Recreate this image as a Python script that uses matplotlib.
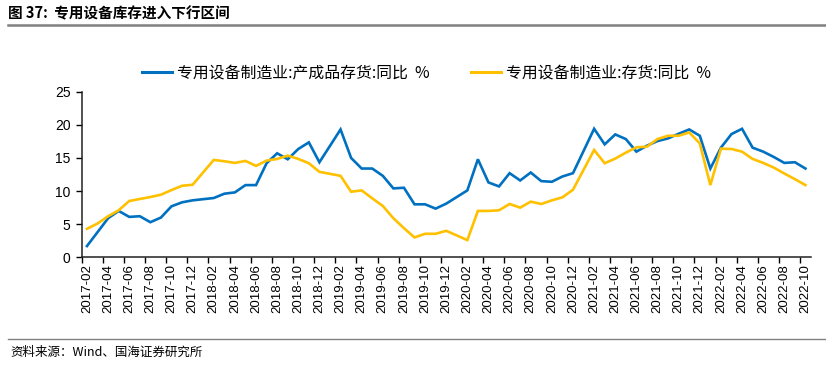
import numpy as np
import pandas as pd
import matplotlib
matplotlib.use("Agg")
import matplotlib.pyplot as plt
from matplotlib.lines import Line2D

plt.rcParams['font.family'] = ['Noto Sans CJK SC', 'DejaVu Sans']

# 月份 2017-02 .. 2022-10, 1月多数年份缺失 (None)
months = pd.period_range('2017-02', '2022-10', freq='M').strftime('%Y-%m').tolist()

# 专用设备制造业:产成品存货:同比 %
finished = [1.7, 3.8, 5.9, 7.0, 6.1, 6.2, 5.3, 6.0, 7.7, 8.3, 8.6,
            None, 8.95, 9.6, 9.8, 10.9, 10.9, 14.2, 15.7, 14.8, 16.35, 17.35, 14.35,
            None, 19.3, 15.0, 13.4, 13.4, 12.3, 10.4, 10.5, 8.0, 8.0, 7.35, 8.1,
            None, 10.1, 14.8, 11.3, 10.7, 12.7, 11.6, 12.8, 11.5, 11.4, 12.2, 12.7,
            None, 19.4, 17.05, 18.55, 17.85, 15.95, 16.85, 17.55, 17.95, 18.65, 19.3, 18.35,
            13.4, 16.55, 18.6, 19.4, 16.55, 15.95, 15.15, 14.25, 14.35, 13.4]

# 专用设备制造业:存货:同比 %
inventory = [4.3, 5.1, 6.2, 7.1, 8.5, 8.8, 9.1, 9.45, 10.15, 10.8, 10.95,
             None, 14.7, 14.5, 14.25, 14.55, 13.8, 14.6, 14.85, 15.35, 14.85, 14.2, 12.9,
             None, 12.3, 9.9, 10.1, 8.9, 7.75, 5.9, 4.4, 3.0, 3.55, 3.55, 4.0,
             None, 2.6, 7.0, 7.0, 7.1, 8.05, 7.5, 8.4, 8.05, 8.6, 9.05, 10.2,
             None, 16.2, 14.2, 14.9, 15.8, 16.6, 16.7, 17.85, 18.35, 18.35, 18.85, 17.2,
             10.9, 16.4, 16.35, 15.95, 14.85, 14.25, 13.55, 12.65, 11.8, 10.9]

labels = ['专用设备制造业:产成品存货:同比  %', '专用设备制造业:存货:同比  %']
colors = ['#0070C0', '#FFC000']

fig = plt.figure(figsize=(8.26, 3.69), dpi=100)
ax = fig.add_axes([0.0989, 0.3027, 0.8826, 0.4488])

idx = np.arange(len(months))
for series, c in zip([finished, inventory], colors):
    vals = np.array([np.nan if v is None else v for v in series])
    ok = ~np.isnan(vals)
    ax.plot(idx[ok], vals[ok], color=c, lw=1.9, solid_joinstyle='miter')

ax.set_xlim(-0.5, len(months) - 0.5)
ax.set_ylim(0, 25)
ax.set_yticks(range(0, 26, 5))
ax.tick_params(axis='y', direction='out', length=4, width=1, labelsize=10, pad=4)
for t in ax.get_yticklabels():
    t.set_fontfamily('Liberation Sans')

# tick marks on category boundaries, labels on category centres
ax.set_xticks(np.arange(-0.5, len(months) - 1, 2))
ax.set_xticklabels([])
ax.tick_params(axis='x', which='major', direction='out', length=4, width=1)
ax.set_xticks(idx[::2], minor=True)
ax.set_xticklabels(months[::2], minor=True, rotation=90, fontsize=9.5,
                   fontfamily='Liberation Sans')
ax.tick_params(axis='x', which='minor', length=0, pad=5)

for s in ['top', 'right']:
    ax.spines[s].set_visible(False)
for s in ['left', 'bottom']:
    ax.spines[s].set_linewidth(1.1)
    ax.spines[s].set_color('#222222')

handles = [Line2D([], [], color=c, lw=2.2) for c in colors]
fig.legend(handles, labels, loc='center', bbox_to_anchor=(0.516, 0.802), ncol=2,
           frameon=False, fontsize=11.4, handlelength=1.9, handletextpad=0.32,
           columnspacing=2.6)

fig.text(0.010, 0.965, '图 37:  专用设备库存进入下行区间', fontsize=10.5,
         fontweight='bold', va='center', ha='left')
fig.add_artist(Line2D([0.010, 1.0], [0.933, 0.933], color='#808080', lw=1.8))
fig.add_artist(Line2D([0.010, 1.0], [0.081, 0.081], color='#808080', lw=1.0))
fig.text(0.012, 0.046, '资料来源：Wind、国海证券研究所', fontsize=9,
         va='center', ha='left')

fig.savefig('out.png', dpi=100)
